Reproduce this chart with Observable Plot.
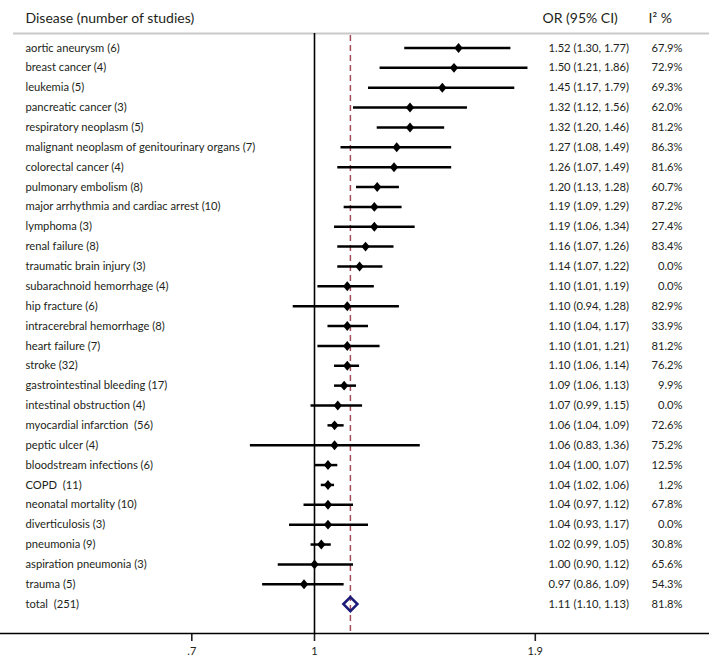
<!DOCTYPE html>
<html>
<head>
<meta charset="utf-8">
<script src="https://cdn.jsdelivr.net/npm/d3@7"></script>
<script src="https://cdn.jsdelivr.net/npm/@observablehq/plot@0.6"></script>
<style>
  body { margin: 0; background: #fff; }
  #chart svg { display: block; }
</style>
</head>
<body>
<div id="chart"></div>
<script>
// ---- Data ----
const labels = [
  "aortic aneurysm (6)",
  "breast cancer (4)",
  "leukemia (5)",
  "pancreatic cancer (3)",
  "respiratory neoplasm (5)",
  "malignant neoplasm of genitourinary organs (7)",
  "colorectal cancer (4)",
  "pulmonary embolism (8)",
  "major arrhythmia and cardiac arrest (10)",
  "lymphoma (3)",
  "renal failure (8)",
  "traumatic brain injury (3)",
  "subarachnoid hemorrhage (4)",
  "hip fracture (6)",
  "intracerebral hemorrhage (8)",
  "heart failure (7)",
  "stroke (32)",
  "gastrointestinal bleeding (17)",
  "intestinal obstruction (4)",
  "myocardial infarction\u00a0 (56)",
  "peptic ulcer (4)",
  "bloodstream infections (6)",
  "COPD\u00a0 (11)",
  "neonatal mortality (10)",
  "diverticulosis (3)",
  "pneumonia (9)",
  "aspiration pneumonia (3)",
  "trauma (5)"
];
const orValues = [1.52, 1.50, 1.45, 1.32, 1.32, 1.27, 1.26, 1.20, 1.19, 1.19, 1.16, 1.14, 1.10, 1.10, 1.10, 1.10, 1.10, 1.09, 1.07, 1.06, 1.06, 1.04, 1.04, 1.04, 1.04, 1.02, 1.00, 0.97];
const ciLow    = [1.30, 1.21, 1.17, 1.12, 1.20, 1.08, 1.07, 1.13, 1.09, 1.06, 1.07, 1.07, 1.01, 0.94, 1.04, 1.01, 1.06, 1.06, 0.99, 1.04, 0.83, 1.00, 1.02, 0.97, 0.93, 0.99, 0.90, 0.86];
const ciHigh   = [1.77, 1.86, 1.79, 1.56, 1.46, 1.49, 1.49, 1.28, 1.29, 1.34, 1.26, 1.22, 1.19, 1.28, 1.17, 1.21, 1.14, 1.13, 1.15, 1.09, 1.36, 1.07, 1.06, 1.12, 1.17, 1.05, 1.12, 1.09];
const i2Values = [67.9, 72.9, 69.3, 62.0, 81.2, 86.3, 81.6, 60.7, 87.2, 27.4, 83.4, 0.0, 0.0, 82.9, 33.9, 81.2, 76.2, 9.9, 0.0, 72.6, 75.2, 12.5, 1.2, 67.8, 0.0, 30.8, 65.6, 54.3];

const totalLabel = "total\u00a0 (251)";
const totalOR = 1.11, totalLow = 1.10, totalHigh = 1.13, totalI2 = 81.8;

const xTicks = [0.7, 1, 1.9];
const xTickLabels = [".7", "1", "1.9"];

const headerDisease = "Disease (number of studies)";
const headerOR = "OR (95% CI)";
const headerI2 = "I\u00b2 %";

// ---- Build table ----
const rows = labels.map((label, i) => ({
  i, label, or: orValues[i], lo: ciLow[i], hi: ciHigh[i],
  orText: `${orValues[i].toFixed(2)} (${ciLow[i].toFixed(2)}, ${ciHigh[i].toFixed(2)})`,
  i2Text: `${i2Values[i].toFixed(1)}%`
}));
const totalRow = {
  i: labels.length, label: totalLabel, or: totalOR, lo: totalLow, hi: totalHigh,
  orText: `${totalOR.toFixed(2)} (${totalLow.toFixed(2)}, ${totalHigh.toFixed(2)})`,
  i2Text: `${totalI2.toFixed(1)}%`
};
const allRows = [...rows, totalRow];

// layout: row-index padding above first row and below last row
const topPad = 0.73, bottomPad = 1.48;
const nLast = labels.length;

const diamondTall = {
  draw(ctx, size) {
    const h = Math.sqrt(size) * 0.5;
    const w = h * 0.84;
    ctx.moveTo(0, -h); ctx.lineTo(w, 0); ctx.lineTo(0, h); ctx.lineTo(-w, 0); ctx.closePath();
  }
};

const textColor = "#231f20";
const font = "Lato, 'Open Sans', sans-serif";

const chart = Plot.plot({
  width: 709,
  height: 658,
  marginLeft: 0,
  marginRight: 0,
  marginTop: 33,
  marginBottom: 25,
  style: { fontFamily: font, fontSize: "11px", color: textColor, background: "#fff" },
  x: { type: "log", domain: [0.4014, 3.1528] },
  y: { domain: [nLast + bottomPad, -topPad], axis: null },
  marks: [
    // top grey separator
    Plot.ruleY([-topPad], { stroke: "#c9c9c9", strokeWidth: 2, insetLeft: 13 }),
    // pooled estimate dashed line
    Plot.ruleX([totalOR], { stroke: "#a24d58", strokeWidth: 1.5, strokeDasharray: "6,4", insetTop: 2 }),
    // line of no effect
    Plot.ruleX([1], { stroke: "#000", strokeWidth: 1.6 }),
    // confidence intervals
    Plot.ruleY(rows, { y: "i", x1: "lo", x2: "hi", stroke: "#000", strokeWidth: 2.5 }),
    // point estimates
    Plot.dot(rows, { x: "or", y: "i", symbol: diamondTall, r: 5.6, fill: "#000", stroke: "none" }),
    // total
    Plot.dot([totalRow], { x: "or", y: "i", symbol: "diamond2", r: 6.3, fill: "none", stroke: "#1c1c78", strokeWidth: 2.6 }),
    // text columns
    Plot.text(allRows, { y: "i", text: "label", frameAnchor: "left", dx: 25, textAnchor: "start", fill: textColor, fontSize: 11.2 }),
    Plot.text(allRows, { y: "i", text: "orText", frameAnchor: "left", dx: 548, textAnchor: "start", fill: textColor, fontSize: 11.2 }),
    Plot.text(allRows, { y: "i", text: "i2Text", frameAnchor: "left", dx: 682, textAnchor: "end", fill: textColor, fontSize: 11.2 }),
    // headers
    Plot.text([headerDisease], { text: d => d, frameAnchor: "top-left", dx: 25, dy: -20, textAnchor: "start", fill: textColor, fontSize: 14 }),
    Plot.text([headerOR], { text: d => d, frameAnchor: "top-left", dx: 542, dy: -20, textAnchor: "start", fill: textColor, fontSize: 14 }),
    Plot.text([headerI2], { text: d => d, frameAnchor: "top-left", dx: 648, dy: -20, textAnchor: "start", fill: textColor, fontSize: 14 }),
    // x axis
    Plot.axisX({ ticks: xTicks, tickFormat: d => xTickLabels[xTicks.indexOf(d)], tickSize: 8, tickPadding: 6, strokeWidth: 1.6, fontSize: 11, label: null, fill: textColor }),
    Plot.ruleY([nLast + bottomPad], { stroke: "#000", strokeWidth: 1.6 })
  ]
});

document.getElementById("chart").appendChild(chart);
</script>
</body>
</html>
